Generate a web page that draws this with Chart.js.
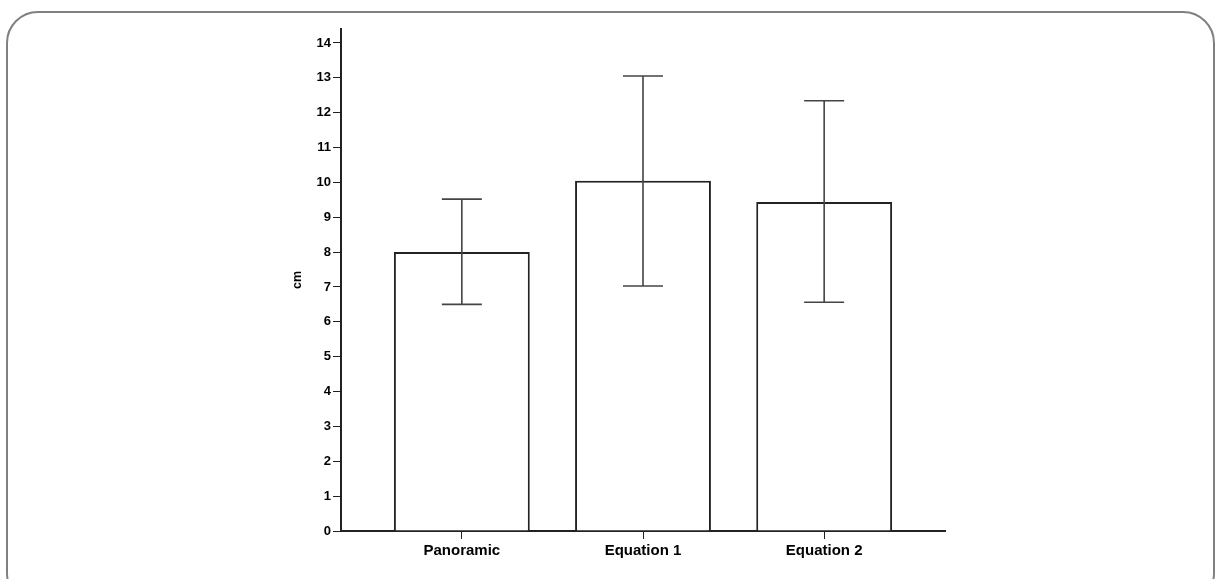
<!DOCTYPE html>
<html>
<head>
<meta charset="utf-8">
<script src="https://cdn.jsdelivr.net/npm/chart.js@4"></script>
<style>
  html, body { margin: 0; padding: 0; background: #fff; overflow: hidden; }
  #wrap { position: relative; width: 1217px; height: 579px; overflow: hidden; }
  #frame {
    position: absolute; left: 6px; top: 11px; width: 1205px; height: 590px;
    border: 2.5px solid #808080; border-radius: 32px;
  }
  #chart { position: absolute; left: 0; top: 0; }
</style>
</head>
<body>
<div id="wrap">
  <div id="frame"></div>
  <canvas id="chart" width="1217" height="579"></canvas>
</div>
<script>
// データ
const categories = ['Panoramic', 'Equation 1', 'Equation 2'];
const means = [8.0, 10.05, 9.44];
const errLow = [6.5, 7.03, 6.56];
const errHigh = [9.52, 13.05, 12.34];
const yTicks = [0, 1, 2, 3, 4, 5, 6, 7, 8, 9, 10, 11, 12, 13, 14];
const yTitle = 'cm';

const FONT = '"Liberation Sans", Arial, sans-serif';

// エラーバー描画
const errorBars = {
  id: 'errorBars',
  afterDatasetsDraw(chart) {
    const ctx = chart.ctx;
    const xs = chart.scales.x, ys = chart.scales.y;
    ctx.save();
    ctx.strokeStyle = '#444';
    ctx.lineWidth = 1.6;
    categories.forEach((c, i) => {
      const x = xs.getPixelForValue(i);
      const yLo = ys.getPixelForValue(errLow[i]);
      const yHi = ys.getPixelForValue(errHigh[i]);
      const cap = 20;
      ctx.beginPath();
      ctx.moveTo(x, yLo); ctx.lineTo(x, yHi);
      ctx.moveTo(x - cap, yLo); ctx.lineTo(x + cap, yLo);
      ctx.moveTo(x - cap, yHi); ctx.lineTo(x + cap, yHi);
      ctx.stroke();
    });
    ctx.restore();
  }
};

new Chart(document.getElementById('chart'), {
  type: 'bar',
  data: {
    datasets: [{
      data: means.map((v, i) => ({ x: i, y: v })),
      backgroundColor: '#fff',
      borderColor: '#222',
      borderWidth: 2,
      barPercentage: 1,
      categoryPercentage: 0.75
    }]
  },
  options: {
    responsive: false,
    animation: false,
    events: [],
    layout: { padding: { left: 290, top: 29, right: 272, bottom: 0 } },
    plugins: { legend: { display: false }, tooltip: { enabled: false } },
    scales: {
      x: {
        type: 'linear',
        offset: false,
        min: -0.667,
        max: 2.667,
        afterBuildTicks: s => { s.ticks = categories.map((c, i) => ({ value: i })); },
        afterFit: s => { s.height = 48; },
        grid: { offset: false, drawOnChartArea: false, drawTicks: true, tickLength: 8, color: '#222' },
        border: { display: true, color: '#222', width: 2 },
        ticks: {
          padding: 3,
          color: '#000',
          maxRotation: 0,
          font: { family: FONT, size: 15, weight: 'bold' },
          callback: v => categories[v]
        }
      },
      y: {
        min: 0,
        max: 14.4,
        afterBuildTicks: s => { s.ticks = yTicks.map(v => ({ value: v })); },
        afterFit: s => { s.width = 51; },
        grid: { drawOnChartArea: false, drawTicks: true, tickLength: 8, color: '#222' },
        border: { display: true, color: '#222', width: 2 },
        ticks: {
          padding: 2,
          color: '#000',
          font: { family: FONT, size: 13, weight: 'bold' }
        },
        title: {
          display: true,
          text: yTitle,
          color: '#000',
          padding: 0,
          font: { family: FONT, size: 12.5, weight: 'bold' }
        }
      }
    }
  },
  plugins: [errorBars]
});
</script>
</body>
</html>
